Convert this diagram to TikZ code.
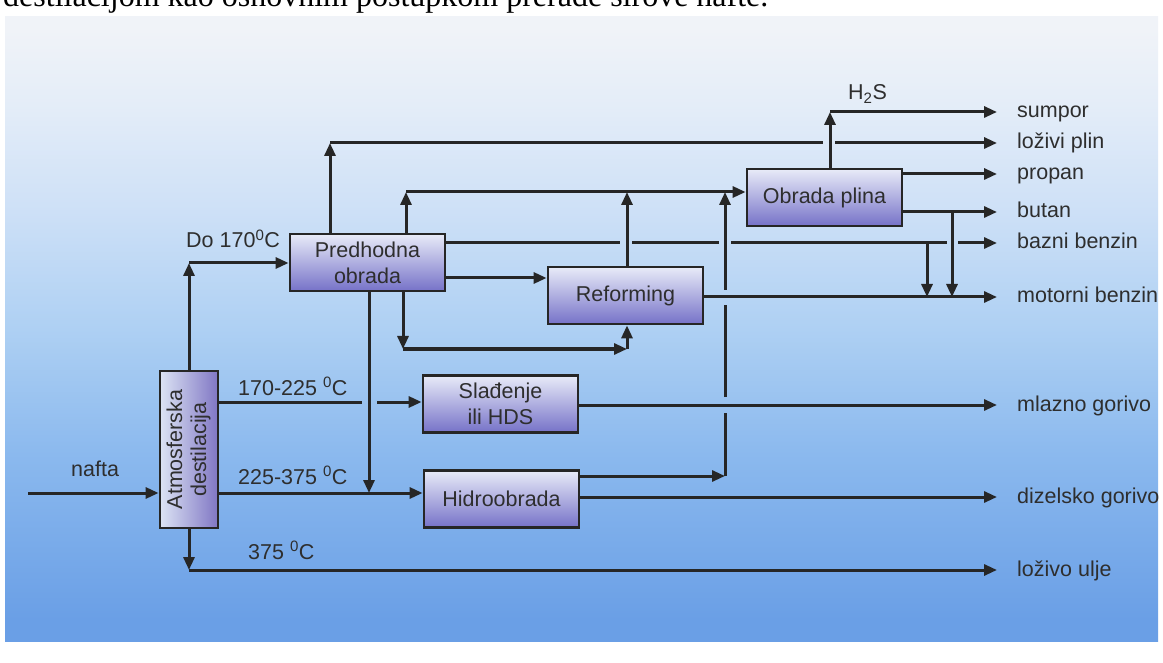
\documentclass[tikz,border=0pt]{standalone}
\usepackage{fontspec}
\usepackage{graphicx}
\setmainfont{Liberation Sans}
\newfontfamily\serifbody{Liberation Serif}
\usetikzlibrary{arrows.meta}
\definecolor{linec}{HTML}{262626}
\definecolor{txtc}{HTML}{2E2E2E}
\definecolor{pbot}{HTML}{6A9FE6}
\definecolor{pa}{HTML}{8BB9EE}
\definecolor{pb}{HTML}{AED0F3}
\definecolor{pc}{HTML}{CFE1F7}
\definecolor{pd}{HTML}{E4EDF8}
\definecolor{ptop}{HTML}{F0F3F8}
\definecolor{boxtop}{HTML}{E8EBF8}
\definecolor{boxbot}{HTML}{7672C8}
\definecolor{atmleft}{HTML}{DCE4F4}
\definecolor{atmright}{HTML}{8076C4}
\pgfdeclareverticalshading{panelshade}{100bp}{color(0bp)=(pbot); color(26.7bp)=(pbot); color(40bp)=(pa); color(50bp)=(pb); color(60bp)=(pc); color(68bp)=(pd); color(74bp)=(ptop); color(100bp)=(ptop)}
\tikzset{
  ln/.style={line width=3pt, draw=linec},
  arr/.style={ln, -{Triangle[length=13pt,width=11pt]}},
  procbox/.style={draw=linec, line width=2.8pt, top color=boxtop, bottom color=boxbot,
    minimum width=155pt, minimum height=57pt, inner sep=0pt, align=center, text=txtc},
  lbl/.style={anchor=base west, inner sep=0pt, text=txtc},
}
\begin{document}
\begin{tikzpicture}[x=1pt,y=-1pt,font=\fontsize{21.5}{26}\selectfont]
\useasboundingbox (0,0) rectangle (1163,663);
\fill[white] (0,0) rectangle (1163,663);
% caption fragment at top (cut by the page edge)
\node[anchor=base west, inner sep=0pt, font=\serifbody\fontsize{32}{38}\selectfont] (cap) at (3,7) {destilacijom kao osnovnim postupkom prerade sirove nafte.};
% panel
\fill[shading=panelshade] (5,17) rectangle (1158,641);

% process boxes
\node[procbox] (pred) at (367.5,262.5) {Predhodna\\obrada};
\node[procbox] (ref)  at (625.5,295.5) {Reforming};
\node[procbox] (plin) at (824.5,197.5) {Obrada plina};
\node[procbox] (slad) at (500.5,404) {Slađenje\\ili HDS};
\node[procbox] (hid)  at (501.5,499) {Hidroobrada};
\node[draw=linec, line width=2.8pt, left color=atmleft, right color=atmright,
      minimum width=58pt, minimum height=157pt, inner sep=0pt, text=txtc] (atm) at (189,449.5)
      {\rotatebox{90}{\begin{tabular}{@{}c@{}}Atmosferska\\[-2pt]destilacija\end{tabular}}};

% junctions
\coordinate (nin) at (28,493);
\coordinate (c1) at (189,263);
\coordinate (c375) at (189,570);
\coordinate (c2) at (330,143);
\coordinate (c3) at (406,192);
\coordinate (c4) at (403,349);
\coordinate (c5) at (627,349);
\coordinate (c6) at (725,476);
\coordinate (c7) at (830,112);
\coordinate (d1) at (369,493);
% output arrow tips
\coordinate (oS) at (997,112);
\coordinate (oLP) at (997,143);
\coordinate (oP) at (997,174);
\coordinate (oB) at (997,212);
\coordinate (oBB) at (997,243);
\coordinate (oMB) at (997,297);
\coordinate (oMG) at (997,405);
\coordinate (oDG) at (997,497);
\coordinate (oLU) at (997,570);

% feed
\draw[arr] (nin) -- (atm.west |- nin);
% Do 170 C
\draw[arr] (atm.north) -- (c1);
\draw[arr] (c1) -- (pred.west |- c1);
% 170-225
\draw[ln] (atm.east |- 0,402) -- (362,402);
\draw[arr] (377,402) -- (slad.west |- 0,402);
% 225-375
\draw[arr] (atm.east |- nin) -- (hid.west |- nin);
% 375
\draw[arr] (atm.south) -- (c375);
\draw[arr] (c375) -- (oLU);

% Predhodna obrada outputs
\draw[arr] (pred.north -| c2) -- (c2);
\draw[ln] (c2) -- (823,143);
\draw[arr] (835,143) -- (oLP);
\draw[arr] (pred.north -| c3) -- (c3);
\draw[arr] (c3) -- (plin.west |- c3);
\draw[ln] (pred.east |- 0,243) -- (620,243);
\draw[ln] (632,243) -- (719,243);
\draw[ln] (731,243) -- (947,243);
\draw[arr] (958,243) -- (oBB);
\draw[arr] (pred.east |- 0,278) -- (ref.west |- 0,278);
\draw[arr] (pred.south -| c4) -- (c4);
\draw[arr] (c4) -- (c5);
\draw[arr] (c5) -- (ref.south -| c5);
\draw[arr] (pred.south -| d1) -- (d1);

% Reforming
\draw[arr] (ref.north -| c5) -- (c5 |- c3);
\draw[arr] (ref.east |- oMB) -- (oMB);

% Sladjenje
\draw[arr] (slad.east |- oMG) -- (oMG);

% Hidroobrada
\draw[arr] (hid.east |- c6) -- (c6);
\draw[ln] (c6) -- (725,413);
\draw[ln] (725,397) -- (725,305);
\draw[arr] (725,290) -- (c6 |- c3);
\draw[arr] (hid.east |- oDG) -- (oDG);

% Obrada plina
\draw[arr] (plin.north -| c7) -- (c7);
\draw[arr] (c7) -- (oS);
\draw[arr] (plin.east |- oP) -- (oP);
\draw[arr] (plin.east |- oB) -- (oB);
\draw[arr] (927,243) -- (927,297);
\draw[arr] (952,212) -- (952,297);

% stream labels
\node[lbl] (lnafta) at (71,476) {nafta};
\node[lbl] (l170) at (186,248) {Do 170\textsuperscript{0}C};
\node[lbl] (l225) at (238,395) {170-225 \textsuperscript{0}C};
\node[lbl] (l375a) at (238,484) {225-375 \textsuperscript{0}C};
\node[lbl] (l375) at (248,559) {375 \textsuperscript{0}C};
\node[lbl] (lh2s) at (848,100) {H\textsubscript{2}S};

% product labels
\node[lbl] (pS) at (1017,118) {sumpor};
\node[lbl] (pLP) at (1017,149) {loživi plin};
\node[lbl] (pP) at (1017,180) {propan};
\node[lbl] (pB) at (1017,218) {butan};
\node[lbl] (pBB) at (1017,249) {bazni benzin};
\node[lbl] (pMB) at (1017,303) {motorni benzin};
\node[lbl] (pMG) at (1017,411) {mlazno gorivo};
\node[lbl] (pDG) at (1017,503) {dizelsko gorivo};
\node[lbl] (pLU) at (1017,576) {loživo ulje};
\end{tikzpicture}
\end{document}
